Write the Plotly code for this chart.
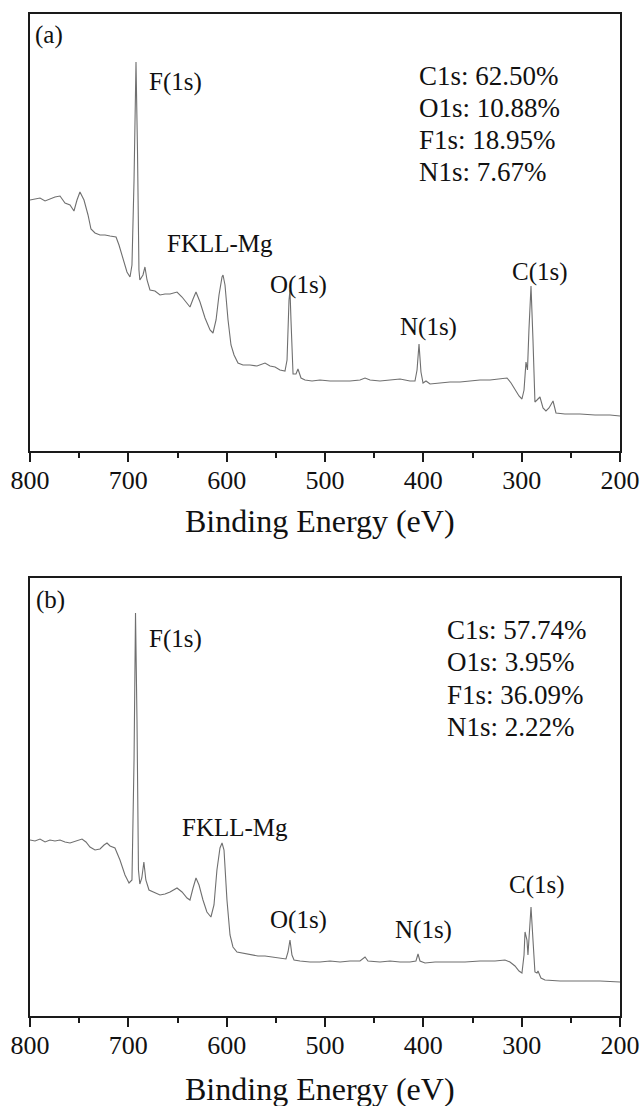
import plotly.graph_objects as go

# ---------------- data ----------------
energy_a = [800, 789.8, 784.7, 779.7, 774.6, 769.5, 764.4, 759.3, 755.3, 752.2, 749.2, 745.1, 741.0, 738.0,
            733.9, 728.8, 723.7, 718.6, 712.5, 709.5, 705.4, 701.4, 698.3, 696.3, 694.2, 692.2, 690.7, 689.2,
            688.3, 685.1, 683.1, 681.0, 678.0, 672.9, 667.8, 662.7, 657.6, 650.5, 645.4, 640.3, 637.3, 634.2,
            631.2, 627.1, 622.0, 616.9, 613.9, 610.8, 607.8, 604.7, 603.7, 601.7, 598.6, 595.6, 592.5, 588.5,
            583.4, 576.3, 569.2, 561.0, 555.9, 550.8, 545.8, 540.7, 538.6, 536.6, 535.6, 534.6, 532.5, 529.5,
            527.5, 524.4, 520.3, 513.2, 505.1, 494.9, 484.7, 474.6, 464.4, 459.3, 454.2, 444.1, 433.9, 423.7,
            413.6, 408.5, 406.4, 404.4, 402.4, 400.3, 397.3, 393.2, 383.1, 372.9, 362.7, 352.5, 342.4, 332.2,
            322.0, 314.9, 310.8, 306.8, 302.7, 299.7, 297.6, 295.6, 294.1, 292.6, 290.5, 288.5, 286.5, 284.4,
            281.4, 278.3, 275.3, 272.2, 268.1, 265.1, 256.0, 240.7, 225.4, 210.2, 200]
intensity_a = [251, 253, 250, 252, 254, 255, 248, 246, 240, 251, 259, 251, 236, 222,
               218, 216, 216, 215, 214, 206, 193, 179, 174, 186, 271, 389, 301, 181,
               171, 176, 184, 171, 161, 160, 156, 157, 157, 159, 154, 147, 144, 152,
               159, 149, 133, 121, 118, 131, 156, 174, 176, 166, 131, 106, 96, 88,
               86, 86, 85, 88, 85, 84, 81, 80, 91, 151, 161, 131, 77, 77,
               82, 73, 71, 70, 71, 70, 70, 70, 71, 73, 71, 70, 71, 72,
               70, 70, 81, 107, 79, 68, 70, 67, 68, 69, 69, 70, 71, 71,
               72, 73, 68, 62, 55, 52, 61, 89, 81, 121, 165, 111, 49, 51,
               54, 43, 40, 43, 50, 38, 37, 37, 36, 36, 35]

energy_b = [800, 794.9, 789.8, 784.7, 779.7, 774.6, 769.5, 764.4, 759.3, 754.2, 747.1, 743.1, 739.0, 733.9,
            728.8, 724.7, 721.7, 718.6, 713.6, 708.5, 703.4, 699.3, 696.3, 694.2, 692.7, 691.2, 689.7, 688.3,
            686.3, 684.2, 682.2, 679.0, 672.9, 667.8, 662.7, 657.6, 650.5, 645.4, 640.3, 637.3, 634.2, 631.2,
            628.1, 624.1, 620.1, 616.0, 612.9, 609.9, 606.8, 604.7, 602.7, 599.7, 596.6, 593.6, 589.5, 584.4,
            576.3, 568.2, 561.0, 553.9, 545.8, 539.7, 537.6, 535.6, 533.6, 531.5, 525.4, 515.3, 505.1, 494.9,
            484.7, 474.6, 464.4, 459.3, 456.3, 444.1, 433.9, 423.7, 413.6, 407.5, 405.4, 403.4, 398.3, 388.1,
            372.9, 357.6, 342.4, 327.1, 317.0, 311.9, 306.8, 302.7, 299.7, 297.6, 296.6, 294.6, 293.6, 292.1,
            290.5, 288.5, 286.5, 284.4, 283.4, 280.4, 276.3, 261.0, 240.7, 220.3, 200]
intensity_b = [176, 175, 177, 174, 176, 175, 176, 174, 173, 175, 177, 174, 169, 166,
               167, 171, 173, 170, 168, 156, 141, 133, 136, 256, 403, 296, 146, 132,
               138, 154, 136, 126, 123, 121, 122, 124, 128, 124, 118, 116, 128, 138,
               131, 116, 104, 99, 111, 146, 168, 173, 166, 116, 81, 69, 64, 63,
               61, 60, 60, 59, 58, 57, 64, 76, 61, 56, 55, 54, 54, 55,
               54, 55, 55, 59, 55, 54, 55, 54, 54, 55, 62, 55, 53, 54,
               54, 54, 55, 55, 56, 54, 50, 45, 43, 61, 84, 76, 61, 86,
               109, 76, 44, 43, 45, 38, 36, 35, 35, 35, 34]

panel_labels = ["(a)", "(b)"]
peak_labels = ["F(1s)", "FKLL-Mg", "O(1s)", "N(1s)", "C(1s)"]
stats_a = ["C1s: 62.50%", "O1s: 10.88%", "F1s: 18.95%", "N1s: 7.67%"]
stats_b = ["C1s: 57.74%", "O1s: 3.95%", "F1s: 36.09%", "N1s: 2.22%"]
x_tickvals = [800, 700, 600, 500, 400, 300, 200]
x_title = "Binding Energy (eV)"

# ---------------- layout helpers ----------------
W, H = 642, 1106
FONT = "Liberation Serif"
TXT = "#111111"
LINE = "#6f6f6f"
FRAME = "#1a1a1a"


def px(x):
    return x / W


def py(y):
    return 1 - y / H


def ann(text, x, y, size=25, xanchor="left"):
    return dict(text=text, x=px(x), y=py(y), xref="paper", yref="paper",
                xanchor=xanchor, yanchor="middle", showarrow=False,
                font=dict(family=FONT, size=size, color=TXT))


fig = go.Figure()
fig.add_trace(go.Scatter(x=energy_a, y=intensity_a, xaxis="x", yaxis="y", mode="lines",
                         line=dict(color=LINE, width=1.1), showlegend=False, hoverinfo="skip"))
fig.add_trace(go.Scatter(x=energy_b, y=intensity_b, xaxis="x2", yaxis="y2", mode="lines",
                         line=dict(color=LINE, width=1.1), showlegend=False, hoverinfo="skip"))

xcommon = dict(range=[800, 200], tickvals=x_tickvals, ticks="outside", ticklen=9, tickwidth=1.5,
               tickcolor=FRAME, showline=True, linecolor=FRAME, linewidth=2, mirror=True,
               showgrid=False, zeroline=False, automargin=False, ticklabelstandoff=-4,
               tickfont=dict(family=FONT, size=26, color=TXT),
               minor=dict(dtick=50, tick0=0, ticks="outside", ticklen=5, tickwidth=1.5, tickcolor=FRAME),
               domain=[px(30), px(620)])
ycommon = dict(showticklabels=False, ticks="", showline=True, linecolor=FRAME, linewidth=2,
               mirror=True, showgrid=False, zeroline=False, automargin=False)

fig.update_layout(
    template="none",
    width=W, height=H, margin=dict(l=0, r=0, t=0, b=0, pad=0),
    paper_bgcolor="white", plot_bgcolor="white", showlegend=False,
    xaxis=dict(xcommon, anchor="y"),
    yaxis=dict(ycommon, range=[0, 437], domain=[py(451), py(14)], anchor="x"),
    xaxis2=dict(xcommon, anchor="y2"),
    yaxis2=dict(ycommon, range=[0, 438], domain=[py(1016), py(578)], anchor="x2"),
)

annotations = [
    ann(panel_labels[0], 33, 35),
    ann(peak_labels[0], 147, 82),
    ann(peak_labels[1], 165, 243),
    ann(peak_labels[2], 268, 285),
    ann(peak_labels[3], 398, 327),
    ann(peak_labels[4], 510, 272),
    ann(panel_labels[1], 34, 600),
    ann(peak_labels[0], 147, 639),
    ann(peak_labels[1], 180, 827),
    ann(peak_labels[2], 268, 920),
    ann(peak_labels[3], 393, 930),
    ann(peak_labels[4], 507, 885),
    ann(x_title, 320, 521, size=32, xanchor="center"),
    ann(x_title, 320, 1089, size=32, xanchor="center"),
]
for i, s in enumerate(stats_a):
    annotations.append(ann(s, 417, 76 + 32 * i, size=27))
for i, s in enumerate(stats_b):
    annotations.append(ann(s, 445, 630 + 32.3 * i, size=27))
fig.update_layout(annotations=annotations)

fig.write_html("out.html", config={"displayModeBar": False},
               post_script="document.body.style.margin='0';document.body.style.overflow='hidden';")
